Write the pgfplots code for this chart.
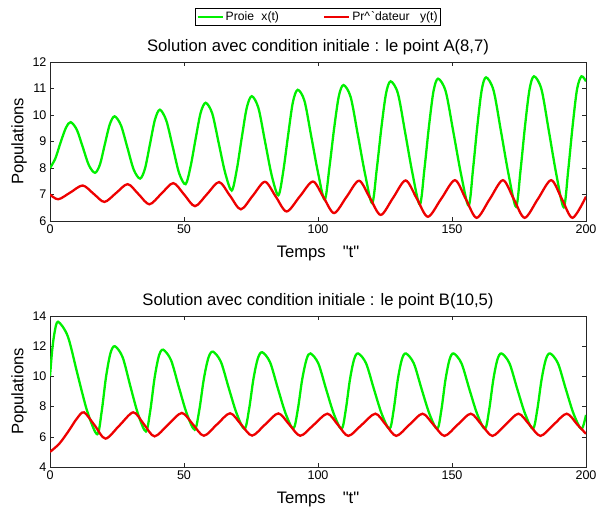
\documentclass[border=0pt]{standalone}
\usepackage{fontspec}
\setmainfont[Ligatures=TeXOff]{Liberation Sans}
\usepackage{pgfplots}
\pgfplotsset{compat=1.18}
\definecolor{vert}{RGB}{0,240,0}
\definecolor{rouge}{RGB}{238,0,0}
\pgfplotsset{
  myax/.style={
    scale only axis, width=536bp,
    xmin=0, xmax=200, xtick={0,50,100,150,200},
    tick align=inside, tick pos=both,
    major tick length=4bp,
    axis line style={black!85, line width=0.7bp},
    tick style={black!85, line width=0.6bp},
    /pgf/number format/assume math mode=true,
    ticklabel style={font=\fontsize{12.6}{14}\selectfont},
    every axis title/.style={at={(axis description cs:0.5,1)}, anchor=base, yshift=11bp, font=\fontsize{16.7}{19}\selectfont},
    every axis x label/.style={at={(axis description cs:0.5,0)}, anchor=base, yshift=-36bp, font=\fontsize{16.7}{19}\selectfont},
    every axis y label/.style={at={(axis description cs:-0.0578,0.5)}, anchor=center, rotate=90, font=\fontsize{16.7}{19}\selectfont},
    xlabel={Temps\hspace{17bp}"t"},
    ylabel={Populations},
  },
  gl/.style={vert, line width=2.3bp, smooth, no marks},
  rl/.style={rouge, line width=2.3bp, smooth, no marks},
}
\begin{document}
\begin{tikzpicture}
\path[use as bounding box] (0,0) rectangle (597bp,-508bp);
\begin{axis}[myax, at={(50bp,-62bp)}, anchor=north west, height=159bp,
  ymin=6, ymax=12, ytick={6,7,8,9,10,11,12},
  title={Solution avec condition initiale : le point A(8,7)},
  legend columns=2,
  legend style={at={(axis description cs:0.5,1)}, anchor=south, yshift=36bp,
    draw=black, line width=0.6bp, font=\fontsize{12.2}{14}\selectfont,
    inner xsep=1bp, inner ysep=1.5bp,
    /tikz/every even column/.append style={column sep=42bp}},
  legend image code/.code={\draw[#1] (0bp,0bp) -- (25bp,0bp);},
]
\addplot[gl] coordinates {
(0,8.00)(2,8.36)(4,8.98)(6,9.53)(7.7,9.73)
(9.98,9.45)(12.25,8.78)(14.53,8.10)(16.8,7.82)
(18.63,8.13)(20.45,8.89)(22.28,9.64)(24.1,9.95)
(26.48,9.61)(28.85,8.78)(31.23,7.94)(33.6,7.60)
(35.45,7.98)(37.3,8.90)(39.15,9.82)(41.0,10.20)
(43.4,9.79)(45.8,8.80)(48.2,7.80)(50.6,7.39)
(52.48,8.07)(54.35,9.11)(56.23,10.09)(58.1,10.46)
(60.53,10.06)(62.95,8.94)(65.38,7.81)(67.8,7.15)
(69.68,7.93)(71.55,9.14)(73.43,10.28)(75.3,10.71)
(77.78,10.26)(80.25,8.99)(82.73,7.72)(85.2,6.97)
(87.0,7.85)(88.8,9.20)(90.6,10.47)(92.4,10.95)
(94.93,10.54)(97.45,9.21)(99.98,7.84)(102.5,6.80)
(104.25,8.01)(106.0,9.48)(107.75,10.70)(109.5,11.13)
(112.18,10.68)(114.85,9.26)(117.53,7.79)(120.2,6.67)
(121.93,7.96)(123.65,9.52)(125.38,10.81)(127.1,11.27)
(129.83,10.81)(132.55,9.32)(135.28,7.78)(138.0,6.62)
(139.7,7.95)(141.4,9.57)(143.1,10.90)(144.8,11.37)
(147.65,10.89)(150.5,9.36)(153.35,7.78)(156.2,6.58)
(157.83,7.94)(159.45,9.58)(161.08,10.94)(162.7,11.42)
(165.5,10.93)(168.3,9.37)(171.1,7.76)(173.9,6.54)
(175.58,7.92)(177.25,9.59)(178.93,10.97)(180.6,11.46)
(183.38,10.97)(186.15,9.39)(188.93,7.76)(191.7,6.52)
(193.35,7.90)(195.0,9.58)(196.65,10.97)(198.3,11.46)
(200,11.27)
};
\addlegendentry{Proie\hspace{4bp} x(t)}
\addplot[rl] coordinates {
(0,7.00)(3.1,6.82)(7.65,7.08)(12.2,7.34)(16.25,7.03)(20.3,6.72)
(24.65,7.055)(29.0,7.39)(33.05,7.01)(37.1,6.63)(41.55,7.03)(46.0,7.43)
(50.05,7.00)(54.1,6.56)(58.6,7.015)(63.1,7.47)(67.15,6.955)(71.2,6.44)
(75.7,6.96)(80.2,7.48)(84.25,6.92)(88.3,6.36)(93.2,6.925)(98.1,7.49)
(102.05,6.895)(106.0,6.30)(110.65,6.91)(115.3,7.52)(119.35,6.875)(123.4,6.23)
(128.05,6.88)(132.7,7.53)(136.85,6.85)(141.0,6.16)(146.05,6.85)(151.1,7.54)
(155.15,6.83)(159.2,6.12)(164.1,6.83)(169.0,7.54)(173.05,6.83)(177.1,6.12)
(182.05,6.83)(187.0,7.54)(191.0,6.83)(195.0,6.12)(200,6.92)
};
\addlegendentry{Pr\textasciicircum\hspace{1bp}`dateur\hspace{7bp} y(t)}
\end{axis}
\begin{axis}[myax, at={(50bp,-316bp)}, anchor=north west, height=151bp,
  ymin=4, ymax=14, ytick={4,6,8,10,12,14},
  title={Solution avec condition initiale : le point B(10,5)},
]
\addplot[gl] coordinates {
(0,10.00)(0.8,11.70)(1.7,12.90)(3.0,13.62)
(6.65,12.65)(10.3,10.12)(13.95,7.66)(17.6,6.17)
(19.25,7.63)(20.9,9.96)(22.55,11.53)(24.2,12.00)
(27.1,11.27)(30.0,9.34)(32.9,7.48)(35.8,6.35)
(37.4,7.71)(39.0,9.87)(40.6,11.34)(42.2,11.77)
(45.15,11.08)(48.1,9.28)(51.05,7.53)(54.0,6.47)
(55.7,7.76)(57.4,9.83)(59.1,11.23)(60.8,11.64)
(63.75,10.97)(66.7,9.23)(69.65,7.54)(72.6,6.52)
(74.25,7.79)(75.9,9.82)(77.55,11.19)(79.2,11.60)
(82.1,10.94)(85.0,9.22)(87.9,7.55)(90.8,6.54)
(92.45,7.79)(94.1,9.80)(95.75,11.15)(97.2,11.52)
(100.1,10.87)(103.0,9.17)(105.9,7.52)(108.8,6.52)
(110.35,7.77)(111.9,9.77)(113.45,11.12)(115.0,11.52)
(117.93,10.87)(120.85,9.17)(123.78,7.52)(126.7,6.52)
(128.23,7.77)(129.75,9.77)(131.28,11.12)(132.8,11.52)
(135.73,10.87)(138.65,9.17)(141.58,7.52)(144.5,6.52)
(146.03,7.77)(147.55,9.77)(149.08,11.12)(150.6,11.52)
(153.53,10.87)(156.45,9.17)(159.38,7.52)(162.3,6.52)
(163.85,7.77)(165.4,9.77)(166.95,11.12)(168.5,11.52)
(171.43,10.87)(174.35,9.17)(177.28,7.52)(180.2,6.52)
(181.8,7.77)(183.4,9.77)(185.0,11.12)(186.6,11.52)
(189.53,10.87)(192.45,9.17)(195.38,7.52)(198.3,6.52)
(200,7.45)
};
\addplot[rl] coordinates {
(0,5.00)(3.5,5.55)(7,6.40)(10,7.20)(12.7,7.62)
(16.7,6.75)(20.7,5.88)(25.9,6.75)(31.1,7.62)
(35.05,6.83)(39.0,6.03)(44.1,6.81)(49.2,7.58)
(53.3,6.83)(57.4,6.07)(62.3,6.82)(67.2,7.56)
(71.3,6.82)(75.4,6.08)(80.3,6.82)(85.2,7.55)
(89.3,6.81)(93.4,6.07)(98.45,6.80)(103.5,7.53)
(107.4,6.80)(111.3,6.06)(116.35,6.80)(121.4,7.53)
(125.3,6.80)(129.2,6.06)(134.1,6.80)(139.0,7.53)
(143.1,6.80)(147.2,6.06)(152.1,6.80)(157.0,7.53)
(161.05,6.80)(165.1,6.06)(169.95,6.80)(174.8,7.53)
(178.9,6.80)(183.0,6.06)(187.9,6.80)(192.8,7.53)
(196.8,6.80)(200,6.20)
};
\end{axis}
\end{tikzpicture}
\end{document}
